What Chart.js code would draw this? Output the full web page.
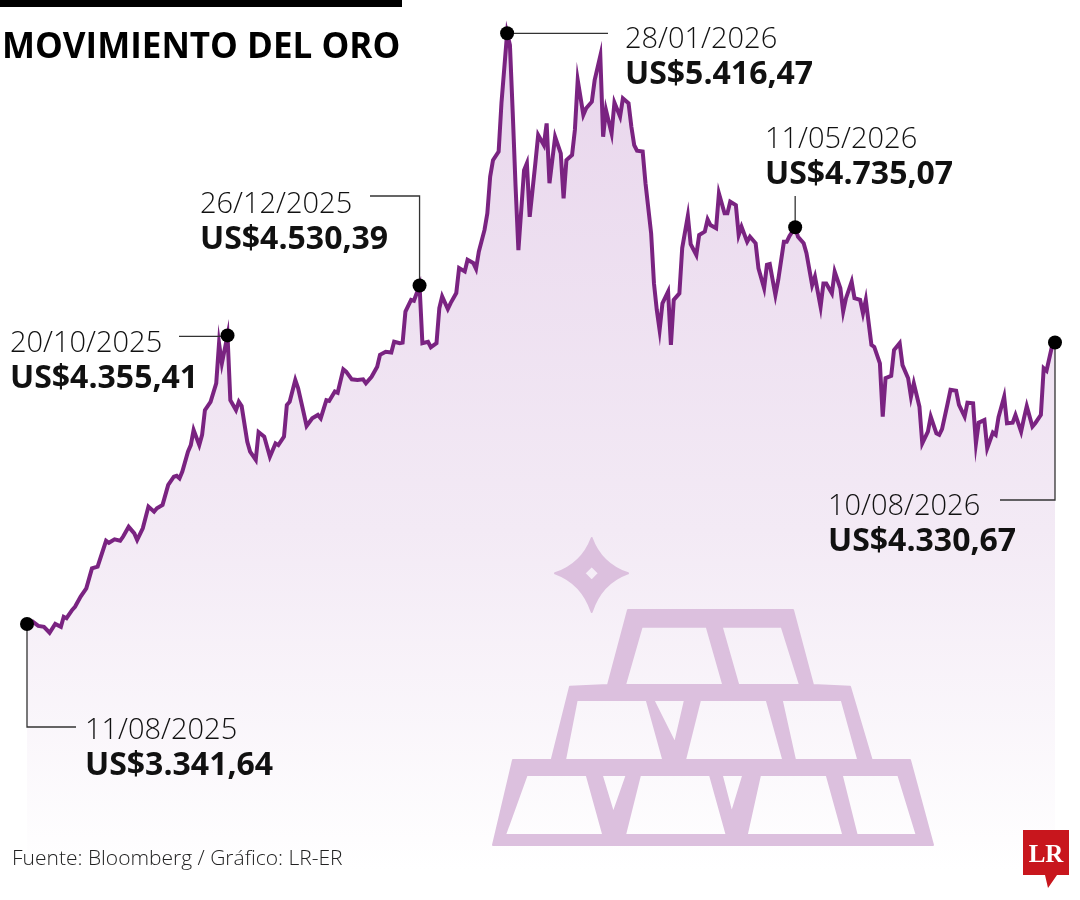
<!DOCTYPE html>
<html>
<head>
<meta charset="utf-8">
<script src="https://cdn.jsdelivr.net/npm/chart.js@4"></script>
<style>
  body { margin: 0; background: #fff; }
  #wrap { position: relative; width: 1080px; height: 900px; overflow: hidden; font-family: "Open Sans", sans-serif; }
  #c { position: absolute; left: 0; top: 0; }
  #icono { position: absolute; left: 0; top: 0; }
  #barra { position: absolute; left: 0; top: 0; width: 402px; height: 7px; background: #000; }
  #titulo { position: absolute; left: 2px; top: 21px; font-weight: 700; font-size: 35px; color: #000; white-space: nowrap; }
  #fuente { position: absolute; left: 12px; top: 843px; font-size: 21px; font-weight: 300; color: #222; white-space: nowrap; }
</style>
</head>
<body>
<div id="wrap">
  <canvas id="c" width="1080" height="900"></canvas>
  <svg id="icono" width="1080" height="900" viewBox="0 0 1080 900">
    <g fill="#dcc0de" fill-rule="evenodd" stroke="#dcc0de" stroke-width="2" stroke-linejoin="round">
      <path d="M591.7 538 Q601 564 628 573.3 Q601 583 591.7 612 Q582 583 555 573.3 Q582 564 591.7 538 Z
               M591.7 566 L599 573.3 L591.7 580.6 L584.4 573.3 Z"/>
      <path d="M628 610 L793 610 L813 685 L850 686.7 L871.7 760 L910 760 L933 845 L493 845 L513 760 L551.7 760 L570 686.7 L608 685 Z
               M641.7 626.7 L706.7 626.7 L723.3 685 L625 685 Z
               M721.7 626.7 L781.7 626.7 L800 685 L738.3 685 Z
               M576.7 700 L646.7 700 L663.3 760 L565 760 Z
               M653.3 700 L685 700 L675 743.3 Z
               M700 700 L766.7 700 L783.3 760 L685 760 Z
               M781.7 700 L841.7 700 L858.3 760 L795 760 Z
               M526.7 775 L586.7 775 L603.3 835 L505 835 Z
               M601.7 775 L626.7 775 L613.3 813.3 Z
               M640 775 L710 775 L726.7 835 L625 835 Z
               M721.7 775 L743.3 775 L731.7 813.3 Z
               M760 775 L826.7 775 L843.3 835 L746.7 835 Z
               M841.7 775 L898.3 775 L916.7 835 L856.7 835 Z"/>
    </g>
    <path d="M1023 830 L1069 830 L1069 875 L1057 875 L1048 888 L1045 875 L1023 875 Z" fill="#c8161d"/>
    <text x="1046" y="862" text-anchor="middle" fill="#fff" font-family="'Liberation Serif', serif" font-weight="700" font-size="25">LR</text>
  </svg>
  <div id="barra"></div>
  <div id="titulo">MOVIMIENTO DEL ORO</div>
  <div id="fuente">Fuente: Bloomberg / Gráfico: LR-ER</div>
</div>
<script>
'use strict';
// días desde el 11/08/2025 y precio de la onza (US$)
const dias = [0,2,4,6,8,10,12,13,14,16,17,19,21,23,25,28,29,31,33,34,36,38,39,41,43,45,46,48,50,52,53,54,55,57,58,59,61,62,63,65,67,68,69,71,
  72,74,75,76,78,79,81,82,84,86,88,89,91,92,93,95,96,98,99,101,103,104,106,107,109,110,112,113,115,117,119,120,122,124,125,127,129,130,132,133,134,136,137,139,
  140,142,143,145,146,147,149,150,152,153,155,156,158,159,160,162,163,164,165,167,168,170,
  171,172,173,174,176,177,178,180,181,183,184,185,187,189,190,191,193,194,195,197,198,200,201,203,204,205,207,208,210,211,
  213,214,215,216,218,219,221,222,223,224,225,227,228,229,231,232,234,235,237,238,240,241,242,244,245,247,248,249,251,252,
  253,255,256,258,259,261,262,263,265,266,268,269,270,272,
  273,275,276,278,279,281,282,283,285,286,288,289,290,292,293,295,296,297,299,300,302,303,304,306,307,309,310,312,313,314,
  316,317,319,320,322,323,324,326,327,329,330,332,333,335,336,337,339,340,342,343,344,346,347,349,350,352,353,354,356,357,
  359,360,361,363,364];
const precios = [3341.64,3350,3335,3332,3311,3342,3332,3367,3362,3391,3402,3438,3467,3537,3543,3634,3627,3639,3634,3648,3683,3660,3637,3678,3754,3736,3748,3760,3830,3859,
  3862,3853,3877,3947,3970,4023,3970,4006,4093,4122,4187,4328,4257,4355.41,
  4128,4093,4122,4107,3982,3947,3918,4016,4000,3929,3976,3970,4000,4111,4122,4199,4170,4082,4037,4064,4076,4064,4128,4125,4158,4154,4236,4228,4201,4199,
  4201,4187,4210,4245,4287,4298,4295,4333,4328,4330,4439,4480,4477,4530.39,
  4328,4333,4314,4328,4451,4492,4448,4469,4504,4592,4580,4621,4610,4589,4650,4726,4784,4913,4971,5001,5171,5416.47,
  5375,5135,4878,4655,4936,4960,4772,4960,5059,5024,5100,4890,5053,4995,4837,4971,4989,5077,5252,5130,5153,5176,5252,5337,5053,5147,5065,5173,5124,5188,
  5171,5088,5024,5004,5001,4890,4714,4538,4445,4374,4468,4509,4322,4480,4503,4662,4775,4676,4638,4708,4720,4763,4743,4732,4854,4784,4784,4825,4813,4708,
  4737,4684,4702,4679,4591,4521,4603,4606,4497,4550,4684,4684,4705,4735.07,
  4702,4679,4644,4532,4562,4456,4538,4538,4503,4579,4521,4439,4486,4544,4486,4480,4433,4480,4322,4315,4257,4070,4205,4213,4304,4328,4251,4205,4140,4187,
  4105,3976,4017,4070,4011,4006,4026,4117,4164,4161,4111,4070,4119,4117,3976,4049,4058,3959,4014,4006,4068,4140,4047,4049,4076,4017,4064,4107,4035,4047,
  4076,4240,4231,4320,4330.67];

const diasNotas = [0, 71, 139, 170, 272, 364];
const fechasNotas = ['11/08/2025', '20/10/2025', '26/12/2025', '28/01/2026', '11/05/2026', '10/08/2026'];
const valoresNotas = ['US$3.341,64', 'US$4.355,41', 'US$4.530,39', 'US$5.416,47', 'US$4.735,07', 'US$4.330,67'];

// posicion del texto y de la linea guia de cada nota
const guias = [
  { tx: 85, ty: 739, ruta: p => [[p.x, p.y], [p.x, 727], [76, 727]] },
  { tx: 10, ty: 352, ruta: p => [[179, p.y + 1], [p.x, p.y + 1]] },
  { tx: 200, ty: 213, ruta: p => [[370, 196], [p.x, 196], [p.x, p.y]] },
  { tx: 625, ty: 48, ruta: p => [[p.x, p.y], [608, p.y]] },
  { tx: 765, ty: 148, ruta: p => [[p.x, 196], [p.x, p.y]] },
  { tx: 828, ty: 515, ruta: p => [[p.x, p.y], [p.x, 500], [1000, 500]] }
];

const notas = {
  id: 'notas',
  afterDatasetsDraw(chart) {
    const ctx = chart.ctx, pts = chart.getDatasetMeta(0).data;
    ctx.save();
    diasNotas.forEach((d, k) => {
      const p = pts[dias.indexOf(d)], g = guias[k];
      ctx.strokeStyle = '#333'; ctx.lineWidth = 1.3;
      ctx.beginPath();
      g.ruta(p).forEach(([x, y], i) => i ? ctx.lineTo(x, y) : ctx.moveTo(x, y));
      ctx.stroke();
      ctx.beginPath(); ctx.fillStyle = '#000';
      ctx.arc(p.x, p.y, 7, 0, Math.PI * 2); ctx.fill();
      ctx.textBaseline = 'alphabetic'; ctx.textAlign = 'left';
      ctx.font = '300 29px "Open Sans"'; ctx.fillStyle = '#111';
      ctx.fillText(fechasNotas[k], g.tx, g.ty);
      ctx.font = 'bold 32px "Open Sans"'; ctx.fillStyle = '#111';
      ctx.fillText(valoresNotas[k], g.tx, g.ty + 36);
    });
    ctx.restore();
  }
};

new Chart(document.getElementById('c').getContext('2d'), {
  type: 'line',
  data: {
    datasets: [{
      data: dias.map((d, i) => ({ x: d, y: precios[i] })),
      borderColor: '#7a2381',
      borderWidth: 4,
      pointRadius: 0,
      tension: 0,
      clip: false,
      fill: 'start',
      backgroundColor: c => {
        const a = c.chart.chartArea;
        if (!a) return 'rgba(0,0,0,0)';
        const g = c.chart.ctx.createLinearGradient(0, a.top, 0, a.bottom);
        g.addColorStop(0, '#e8d5ec');
        g.addColorStop(0.6, '#f3eaf5');
        g.addColorStop(1, '#ffffff');
        return g;
      }
    }]
  },
  options: {
    responsive: false,
    animation: false,
    layout: { padding: { left: 27, right: 25, top: 20, bottom: 30 } },
    scales: {
      x: { type: 'linear', min: 0, max: 364, display: false },
      y: { min: 2477.6, max: 5463.2, display: false }
    },
    plugins: { legend: { display: false }, tooltip: { enabled: false } }
  },
  plugins: [notas]
});
</script>
</body>
</html>
